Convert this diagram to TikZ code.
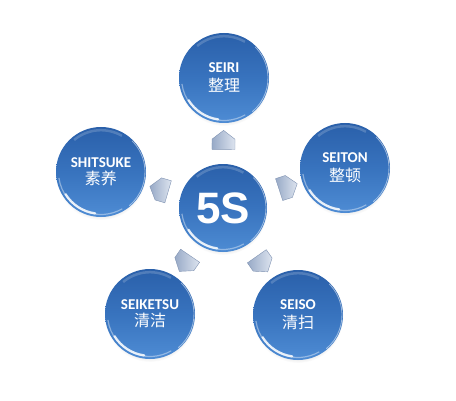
\documentclass[tikz,border=0pt]{standalone}
\usepackage{fontspec}
\setmainfont{Carlito}
\newfontfamily\cjk{Noto Sans CJK SC}
\newfontfamily\fivesfont{Liberation Sans}
\usetikzlibrary{shapes.symbols,shadows,calc}
\definecolor{ballA}{HTML}{2A60AA}
\definecolor{ballB}{HTML}{3873BE}
\definecolor{ballC}{HTML}{4E8CD4}
\definecolor{arrA}{HTML}{DDE4EF}
\definecolor{arrB}{HTML}{98AAC7}
\definecolor{arrE}{HTML}{8093B2}
\newcommand\ballgloss[2]{%
  \pgfmathsetmacro\glA{#2-2.5}%
  \pgfmathsetmacro\glB{#2-3.2}%
  \pgfmathsetmacro\glC{#2-1}%
  \draw[white, opacity=.4, line width=1.2pt] ([shift={(188:\glA)}]#1.center) arc (188:300:\glA);
  \draw[white, opacity=.85, line width=2.2pt, line cap=round] ([shift={(212:\glB)}]#1.center) arc (212:262:\glB);
  \draw[white, opacity=.5, line width=.8pt] ([shift={(-50:\glC)}]#1.center) arc (-50:45:\glC);
  \draw[white, opacity=.18, line width=2.5pt] ([shift={(60:\glB)}]#1.center) arc (60:130:\glB);
}
\tikzset{
  ball/.style={circle, minimum size=90pt, inner sep=0pt, text=white, align=center,
    font=\bfseries\fontsize{15}{18}\selectfont,
    top color=ballA, bottom color=ballC, middle color=ballB,
    circular drop shadow={shadow xshift=0pt, shadow yshift=-3pt, shadow scale=1, opacity=.22, fill=gray}},
  arr/.style={signal, signal to=east, signal pointer angle=105, minimum width=19pt,
    minimum height=23pt, inner sep=0pt, draw=arrE, line width=.4pt,
    left color=arrB, right color=arrA, sloped, allow upside down}
}
\newcommand\zh[1]{{\cjk\mdseries\fontsize{16}{18}\selectfont #1}}
\begin{document}
\begin{tikzpicture}[x=1pt,y=1pt]
\useasboundingbox (0,0) rectangle (456,400);
\node[ball, minimum size=88pt, font=\fivesfont\bfseries\fontsize{44}{44}\selectfont] (c) at (223,192) {5S};
\node[ball] (seiri) at (224,322) {SEIRI\\[1pt]\zh{整理}};
\node[ball] (seiton) at (345,232) {SEITON\\[1pt]\zh{整顿}};
\node[ball] (seiso) at (298,85) {SEISO\\[1pt]\zh{清扫}};
\node[ball] (seiketsu) at (150,86) {SEIKETSU\\[-1pt]\zh{清洁}};
\node[ball] (shitsuke) at (101,228) {SHITSUKE\\[-1pt]\zh{素养}};
\ballgloss{c}{44}
\ballgloss{seiri}{45}
\ballgloss{seiton}{45}
\ballgloss{seiso}{45}
\ballgloss{seiketsu}{45}
\ballgloss{shitsuke}{45}
\path (c.center) -- (seiri.center) node[arr, pos=.49] (a1) {};
\path (c.center) -- (seiton.center) node[arr, pos=.5] (a2) {};
\path (c.center) -- (seiso.center) node[arr, pos=.49] (a3) {};
\path (c.center) -- (seiketsu.center) node[arr, pos=.49] (a4) {};
\path (c.center) -- (shitsuke.center) node[arr, pos=.49] (a5) {};
\end{tikzpicture}
\end{document}
